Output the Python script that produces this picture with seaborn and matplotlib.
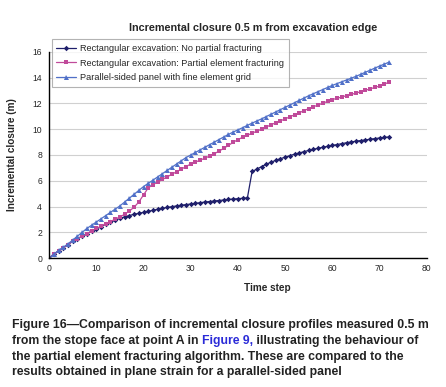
import numpy as np
import pandas as pd
import matplotlib
matplotlib.use("Agg")
import matplotlib.pyplot as plt
import seaborn as sns

# Dados (passo de tempo 0..72)
time_step = list(range(73))

no_partial = [0.0, 0.3, 0.55, 0.8, 1.05, 1.3, 1.5, 1.7, 1.9, 2.08,
              2.25, 2.45, 2.62, 2.78, 2.94, 3.08, 3.2, 3.3, 3.4, 3.47,
              3.55, 3.63, 3.71, 3.79, 3.86, 3.93, 3.99, 4.05, 4.1, 4.15,
              4.2, 4.25, 4.3, 4.35, 4.39, 4.43, 4.47, 4.51, 4.55, 4.58,
              4.61, 4.64, 4.67, 6.72, 6.9, 7.1, 7.28, 7.44, 7.58, 7.71,
              7.83, 7.95, 8.06, 8.16, 8.26, 8.35, 8.44, 8.52, 8.6, 8.67,
              8.74, 8.81, 8.88, 8.95, 9.01, 9.07, 9.12, 9.17, 9.22, 9.27,
              9.32, 9.36, 9.4]

partial = [0.0, 0.3, 0.55, 0.8, 1.05, 1.3, 1.5, 1.7, 1.9, 2.1,
           2.3, 2.48, 2.66, 2.84, 3.02, 3.2, 3.4, 3.65, 3.95, 4.35,
           4.9, 5.45, 5.7, 5.9, 6.1, 6.3, 6.5, 6.7, 6.9, 7.1,
           7.3, 7.45, 7.6, 7.75, 7.92, 8.1, 8.3, 8.52, 8.75, 8.98,
           9.2, 9.37, 9.53, 9.69, 9.85, 10.0, 10.17, 10.34, 10.5, 10.65,
           10.8, 10.96, 11.12, 11.28, 11.44, 11.6, 11.74, 11.88, 12.02, 12.16,
           12.3, 12.4, 12.5, 12.6, 12.7, 12.8, 12.91, 13.02, 13.13, 13.24,
           13.35, 13.5, 13.65]

parallel = [0.0, 0.3, 0.6, 0.85, 1.1, 1.4, 1.7, 2.0, 2.3, 2.55,
            2.8, 3.05, 3.3, 3.55, 3.8, 4.05, 4.35, 4.65, 4.95, 5.25,
            5.55, 5.8, 6.05, 6.3, 6.55, 6.8, 7.05, 7.3, 7.55, 7.8,
            8.0, 8.2, 8.4, 8.6, 8.8, 9.0, 9.2, 9.4, 9.6, 9.78,
            9.95, 10.12, 10.3, 10.47, 10.64, 10.8, 10.98, 11.16, 11.34, 11.52,
            11.7, 11.88, 12.06, 12.24, 12.42, 12.6, 12.76, 12.92, 13.08, 13.24,
            13.4, 13.54, 13.68, 13.82, 13.96, 14.1, 14.26, 14.42, 14.58, 14.74,
            14.9, 15.05, 15.2]

series_names = ["Rectangular excavation: No partial fracturing",
                "Rectangular excavation: Partial element fracturing",
                "Parallel-sided panel with fine element grid"]
series_values = [no_partial, partial, parallel]
colors = ["#1f1f6b", "#c04a9a", "#5070c8"]
markers = ["D", "s", "^"]
msizes = [2.8, 3.3, 3.6]

x_ticks = [0, 10, 20, 30, 40, 50, 60, 70, 80]
y_ticks = [0, 2, 4, 6, 8, 10, 12, 14, 16]

sns.set_style("white")
plt.rcParams['font.family'] = ['Liberation Sans', 'DejaVu Sans']

fig = plt.figure(figsize=(4.46, 3.87), dpi=100)
ax = fig.add_axes([0.11, 0.333, 0.847, 0.533])

for nome, vals, cor, mk, ms in zip(series_names, series_values, colors, markers, msizes):
    df = pd.DataFrame({"Time step": time_step, "Closure": vals})
    sns.lineplot(data=df, x="Time step", y="Closure", ax=ax, color=cor,
                 marker=mk, markersize=ms, markeredgewidth=0, linewidth=0.9,
                 label=nome)

ax.set_xlim(0, 80)
ax.set_ylim(0, 16)
ax.set_xticks(x_ticks)
ax.set_yticks(y_ticks)
ax.tick_params(axis='both', labelsize=6.2, length=3, width=0.8, direction='out', pad=2)
ax.tick_params(axis='x', direction='inout', length=4)
ax.yaxis.grid(True, color='#d0d0d0', linewidth=0.8)
ax.xaxis.grid(False)
sns.despine(ax=ax)
ax.spines['left'].set_linewidth(1.0)
ax.spines['bottom'].set_linewidth(1.0)
ax.spines['left'].set_color('black')
ax.spines['bottom'].set_color('black')

ax.set_xlabel("Time step", fontsize=7.2, fontweight='bold')
ax.xaxis.set_label_coords(0.577, -0.12)
ax.set_ylabel("Incremental closure (m)", fontsize=7.2, fontweight='bold')
ax.yaxis.set_label_coords(-0.085, 0.5)

fig.text(253 / 446, 1 - 28 / 387, "Incremental closure 0.5 m from excavation edge",
         ha='center', va='center', fontsize=7.8, fontweight='bold')

leg = ax.legend(loc='upper left', bbox_to_anchor=(0.007, 1.06), fontsize=6.6,
                frameon=True, fancybox=False, borderpad=0.5, handlelength=2.2,
                handletextpad=0.4, labelspacing=0.6, borderaxespad=0)
leg.get_frame().set_edgecolor('#a0a0a0')
leg.get_frame().set_linewidth(0.8)

# Legenda da figura (caption)
fs = 8.8
linhas_y = [325, 341, 357, 372]
cap1 = "Figure 16\u2014Comparison of incremental closure profiles measured 0.5 m"
cap3 = "the partial element fracturing algorithm. These are compared to the"
cap4 = "results obtained in plane strain for a parallel-sided panel"
x0 = 12 / 446
fig.text(x0, 1 - linhas_y[0] / 387, cap1, fontsize=fs, fontweight='bold', va='center', color='#222222')
fig.text(x0, 1 - linhas_y[2] / 387, cap3, fontsize=fs, fontweight='bold', va='center', color='#222222')
fig.text(x0, 1 - linhas_y[3] / 387, cap4, fontsize=fs, fontweight='bold', va='center', color='#222222')

renderer = fig.canvas.get_renderer()
partes = [("from the stope face at point A in ", '#222222'),
          ("Figure 9,", '#2b2bd8'),
          (" illustrating the behaviour of", '#222222')]
xp = x0
for txt, cor in partes:
    t = fig.text(xp, 1 - linhas_y[1] / 387, txt, fontsize=fs, fontweight='bold',
                 va='center', color=cor)
    bb = t.get_window_extent(renderer=renderer)
    xp += bb.width / fig.bbox.width

fig.savefig("out.png", dpi=100)
